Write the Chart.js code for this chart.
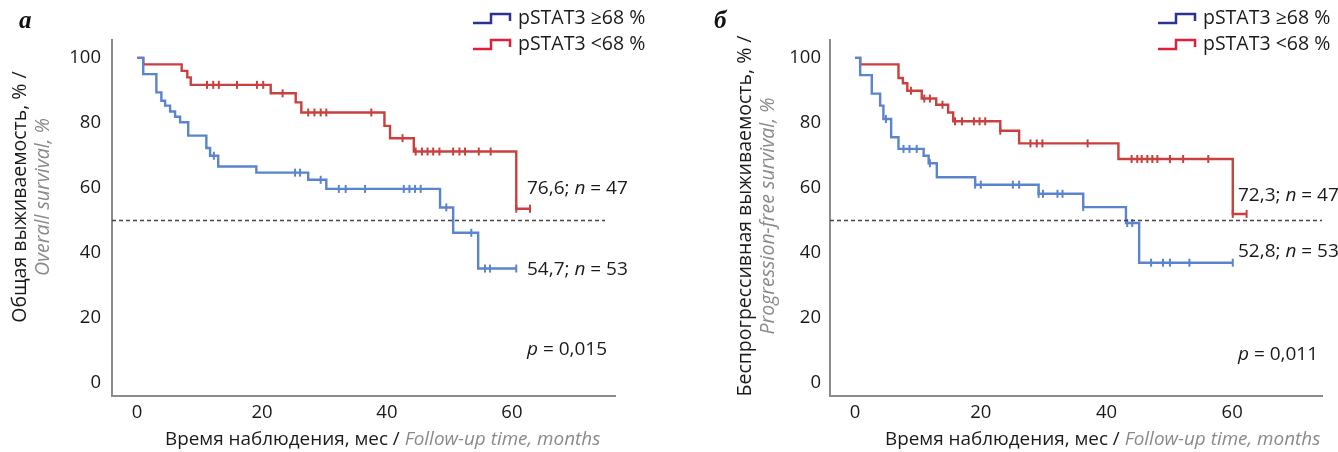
<!DOCTYPE html>
<html><head><meta charset="utf-8">
<script src="https://cdn.jsdelivr.net/npm/chart.js@4.4.0/dist/chart.umd.min.js"></script>
<style>
html,body{margin:0;padding:0;background:#fff;width:1338px;height:452px;overflow:hidden}
.p{position:absolute;top:0;width:669px;height:452px}
canvas{display:block}
</style></head><body>
<div class="p" style="left:0"><canvas id="cA" width="669" height="452"></canvas></div>
<div class="p" style="left:669px"><canvas id="cB" width="669" height="452"></canvas></div>
<script>
// ---------- data ----------
const xTickValues = [0, 20, 40, 60];
const yTickValues = [0, 20, 40, 60, 80, 100];
const refLevel = 50;
const legendLabels = ['pSTAT3 ≥68 %', 'pSTAT3 <68 %'];

// Panel а: overall survival
const osBlueTimes = [0, 1, 3.1, 3.9, 4.5, 5.3, 6.1, 6.9, 8.2, 11.1, 11.7, 13, 19.1, 27.4, 30.3, 48.5, 50.6, 54.6, 60.7];
const osBlueSurv  = [100, 95, 89.4, 86.8, 85.3, 83.5, 81.9, 80.2, 76.1, 72.3, 69.9, 66.6, 64.7, 62.5, 59.7, 54, 46.2, 35.2, 35.2];
const osBlueCensored = [12.3, 25.3, 26.1, 29.4, 32.3, 33.4, 36.5, 42.7, 43.6, 44.5, 45.4, 49.5, 53.5, 55.7, 56.5, 60.7];
const osRedTimes = [0, 1, 7.15, 8.05, 8.6, 21.4, 25.4, 26.3, 39.6, 40.5, 44.3, 60.7, 62.9];
const osRedSurv  = [100, 98, 96, 94, 91.7, 89.1, 86.3, 83.2, 79.1, 75.3, 71.2, 53.6, 53.6];
const osRedCensored = [11.2, 12.2, 13.1, 16, 19.2, 20.2, 23.3, 27.4, 28.4, 29.4, 30.3, 37.5, 42.5, 44.6, 45.6, 46.5, 47.4, 48.4, 50.6, 51.6, 52.5, 54.7, 56.6, 60.7, 62.9];

// Panel б: progression-free survival
const pfsBlueTimes = [0, 0.8, 2.65, 3.98, 4.5, 5.73, 6.9, 10.9, 11.7, 13, 19.1, 29.2, 36.3, 43.1, 45.2, 60.1];
const pfsBlueSurv  = [100, 94.7, 89, 85.3, 81.2, 75.6, 72, 69.9, 67.6, 63.3, 61, 58.2, 54.1, 49.2, 37, 37];
const pfsBlueCensored = [4.9, 7.7, 8.65, 9.8, 11.9, 19.1, 20, 25.1, 26.1, 29.2, 29.9, 32.2, 33, 36.3, 43.3, 44.1, 47.1, 49, 50.1, 53.2, 60.1];
const pfsRedTimes = [0, 0.8, 6.9, 7.6, 8.3, 10.6, 12.9, 14.8, 15.6, 23.1, 26.1, 41.9, 60.1, 62.3];
const pfsRedSurv  = [100, 98, 93.8, 92.2, 89.9, 87.5, 85.6, 83.2, 80.5, 77.6, 73.7, 68.9, 52, 52];
const pfsRedCensored = [8.9, 11, 11.9, 13.9, 15.9, 17, 18.9, 19.8, 20.7, 23.1, 27.9, 28.9, 29.8, 37, 44, 44.9, 45.6, 46.5, 47.3, 48.1, 50.1, 52.2, 56.2, 60.1, 62.3];

const osNotes  = [['76,6', '47'], ['54,7', '53']];
const pfsNotes = [['72,3', '47'], ['52,8', '53']];
const osP = '0,015', pfsP = '0,011';

// ---------- helpers ----------
const BLUE = '#5a84cc', RED = '#c8413f', LEG_BLUE = '#2e3192', LEG_RED = '#e0203a';
const GRAY = '#8a8a8a', FONT = "'Open Sans', sans-serif";

function stepVal(T, S, t) { let v = S[0]; for (let i = 0; i < T.length; i++) if (T[i] <= t + 1e-9) v = S[i]; return v; }
function curve(T, S) { return T.map((t, i) => ({x: t, y: S[i]})); }
function cens(T, S, C) { return C.map(t => ({x: t, y: stepVal(T, S, t)})); }

function rich(ctx, parts, x, y, size) {
  let cx = x;
  for (const [txt, italic, color] of parts) {
    ctx.font = (italic ? 'italic ' : '') + size + 'px ' + FONT;
    ctx.fillStyle = color || '#1a1a1a';
    ctx.fillText(txt, cx, y);
    cx += ctx.measureText(txt).width;
  }
}

const decor = {
  id: 'decor',
  afterDraw(chart, args, o) {
    const ctx = chart.ctx;
    ctx.save();
    ctx.textBaseline = 'middle';
    ctx.textAlign = 'left';
    // panel letter
    ctx.font = 'bold italic 25px "Liberation Serif", serif';
    ctx.fillStyle = '#111';
    ctx.fillText(o.letter, o.letterX, 22);
    // legend
    const cols = [LEG_BLUE, LEG_RED];
    [18, 44].forEach((yy, i) => {
      ctx.strokeStyle = cols[i]; ctx.lineWidth = 2.5;
      const x0 = o.legX;
      ctx.beginPath();
      ctx.moveTo(x0, yy + 5); ctx.lineTo(x0 + 18, yy + 5); ctx.lineTo(x0 + 18, yy - 4);
      ctx.lineTo(x0 + 37, yy - 4); ctx.lineTo(x0 + 37, yy + 3);
      ctx.stroke();
      rich(ctx, [[legendLabels[i], false, '#1a1a1a']], x0 + 45, yy, 19.5);
    });
    // y title
    ctx.save();
    ctx.translate(o.yT1X, o.yTY); ctx.rotate(-Math.PI / 2); ctx.textAlign = 'center';
    ctx.font = '19.5px ' + FONT; ctx.fillStyle = '#1a1a1a'; ctx.fillText(o.yT1, 0, 0);
    ctx.restore();
    ctx.save();
    ctx.translate(o.yT2X, o.yTY); ctx.rotate(-Math.PI / 2); ctx.textAlign = 'center';
    ctx.font = 'italic 19.5px ' + FONT; ctx.fillStyle = GRAY; ctx.fillText(o.yT2, 0, 0);
    ctx.restore();
    // x title
    rich(ctx, [['Время наблюдения, мес / ', false, '#1a1a1a'], ['Follow-up time, months', true, GRAY]], o.xTX, 440, 18.9);
    // annotations
    o.notes.forEach((n, i) => {
      rich(ctx, [[n[0] + '; ', false], ['n', true], [' = ' + n[1], false]], o.noteX, o.noteY[i], 19);
    });
    rich(ctx, [['p', true], [' = ' + o.p, false]], o.noteX, o.pY, 19);
    ctx.restore();
  }
};

function makeChart(id, d) {
  return new Chart(document.getElementById(id), {
    type: 'line',
    data: {
      datasets: [
        {data: [{x: d.xMin, y: refLevel}, {x: d.refEnd, y: refLevel}], borderColor: '#444', borderWidth: 1.6, borderDash: [4, 3], pointRadius: 0},
        {data: curve(d.bT, d.bS), borderColor: BLUE, borderWidth: 2.4, stepped: true, pointRadius: 0},
        {data: curve(d.rT, d.rS), borderColor: RED, borderWidth: 2.4, stepped: true, pointRadius: 0},
        {data: cens(d.bT, d.bS, d.bC), showLine: false, pointStyle: 'line', rotation: 90, pointRadius: 4, borderColor: BLUE, borderWidth: 2},
        {data: cens(d.rT, d.rS, d.rC), showLine: false, pointStyle: 'line', rotation: 90, pointRadius: 4, borderColor: RED, borderWidth: 2}
      ]
    },
    options: {
      responsive: false, animation: false, devicePixelRatio: 1,
      layout: {padding: {left: 0, top: 40, right: d.padR, bottom: 0}},
      plugins: {legend: {display: false}, tooltip: {enabled: false}, decor: d.decor},
      scales: {
        x: {type: 'linear', min: d.xMin, max: d.xMax,
            afterBuildTicks: s => { s.ticks = xTickValues.map(v => ({value: v})); },
            afterFit: s => { s.height = 56; },
            grid: {display: false, drawTicks: false},
            border: {display: true, color: '#8c8c8c', width: 2},
            ticks: {padding: 6, color: '#1a1a1a', font: {family: FONT, size: 18.5}, maxRotation: 0}},
        y: {type: 'linear', min: -4, max: 105.5,
            afterBuildTicks: s => { s.ticks = yTickValues.map(v => ({value: v})); },
            afterFit: s => { s.width = d.yW; },
            grid: {display: false, drawTicks: false},
            border: {display: true, color: '#8c8c8c', width: 2},
            ticks: {padding: d.tickPad, color: '#1a1a1a', font: {family: FONT, size: 18.5}}}
      }
    },
    plugins: [decor]
  });
}

makeChart('cA', {
  bT: osBlueTimes, bS: osBlueSurv, bC: osBlueCensored,
  rT: osRedTimes, rS: osRedSurv, rC: osRedCensored,
  xMin: -4, xMax: 76.5, refEnd: 74.9, padR: 54, yW: 112, tickPad: 11,
  decor: {letter: 'а', letterX: 19, legX: 473, yT1: 'Общая выживаемость, % /', yT2: 'Overall survival, %',
          yT1X: 20, yT2X: 43, yTY: 197, xTX: 165, notes: osNotes, noteX: 527, noteY: [189, 270], p: osP, pY: 350}
});
makeChart('cB', {
  bT: pfsBlueTimes, bS: pfsBlueSurv, bC: pfsBlueCensored,
  rT: pfsRedTimes, rS: pfsRedSurv, rC: pfsRedCensored,
  xMin: -4, xMax: 74.3, refEnd: 74.3, padR: 16, yW: 161, tickPad: 9,
  decor: {letter: 'б', letterX: 45, legX: 489, yT1: 'Беспрогрессивная выживаемость, % /', yT2: 'Progression-free survival, %',
          yT1X: 76, yT2X: 99, yTY: 216, xTX: 216, notes: pfsNotes, noteX: 569, noteY: [196, 252], p: pfsP, pY: 355}
});
</script>
</body></html>
